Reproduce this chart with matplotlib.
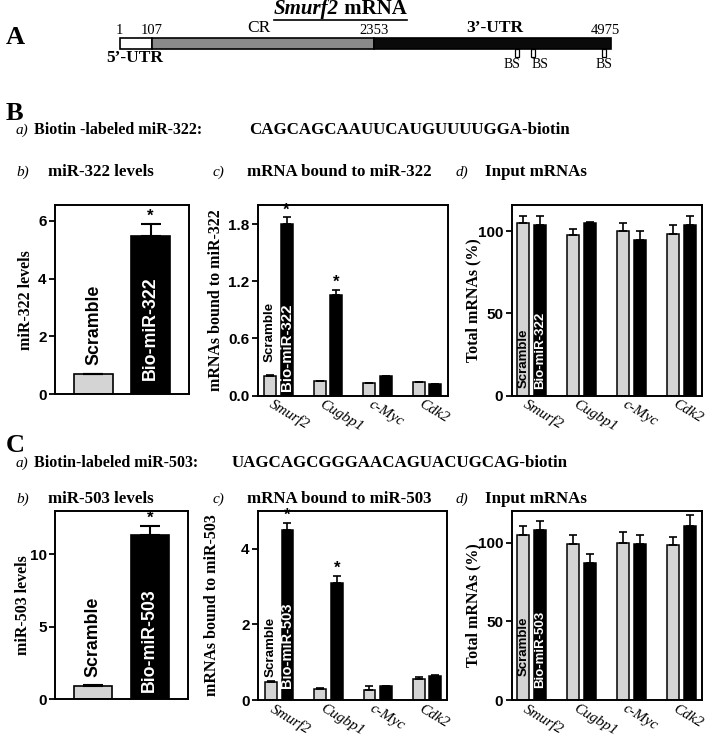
import matplotlib
matplotlib.use("Agg")
import matplotlib.pyplot as plt
from matplotlib.patches import Rectangle
import numpy as np

W, H = 712, 740
SERIF = "Liberation Serif"
SANS = "Liberation Sans"
LIGHT = "#d4d4d4"

# --- Panel A: Smurf2 mRNA map (schematic, not to scale) ---
REGION_LABELS = ["1", "107", "2353", "4975"]
REGION_EDGES = [0.0, 0.066, 0.518, 1.0]     # drawn position along the bar
REGION_COLORS = ["white", "#8a8a8a", "#0a0a0a"]
BS_SITES = [0.809, 0.841, 0.986]             # drawn position along the bar
BS_NUDGE = [-4, 5, 0]                        # label offsets in points

GENES = ["Smurf2", "Cugbp1", "c-Myc", "Cdk2"]

# --- Panel B (miR-322) ---
B_LEVELS = [0.68, 5.47]
B_LEVELS_ERR = [0.03, 0.42]
B_BOUND_SCR = [0.20, 0.15, 0.13, 0.14]
B_BOUND_SCR_ERR = [0.01, 0.005, 0.005, 0.005]
B_BOUND_BIO = [1.80, 1.05, 0.20, 0.12]
B_BOUND_BIO_ERR = [0.07, 0.06, 0.005, 0.005]
B_INPUT_SCR = [104.7, 97.6, 100.2, 98.0]
B_INPUT_SCR_ERR = [4.5, 3.5, 4.5, 5.5]
B_INPUT_BIO = [103.6, 104.9, 94.7, 103.6]
B_INPUT_BIO_ERR = [5.5, 0.6, 5.0, 5.7]

# --- Panel C (miR-503) ---
C_LEVELS = [0.94, 11.33]
C_LEVELS_ERR = [0.05, 0.65]
C_BOUND_SCR = [0.47, 0.30, 0.26, 0.55]
C_BOUND_SCR_ERR = [0.02, 0.01, 0.12, 0.05]
C_BOUND_BIO = [4.49, 3.10, 0.37, 0.64]
C_BOUND_BIO_ERR = [0.19, 0.18, 0.01, 0.01]
C_INPUT_SCR = [104.5, 99.0, 100.0, 98.1]
C_INPUT_SCR_ERR = [5.7, 5.5, 6.4, 5.3]
C_INPUT_BIO = [108.1, 86.9, 99.2, 110.2]
C_INPUT_BIO_ERR = [5.3, 5.5, 5.3, 7.0]

fig = plt.figure(figsize=(W / 100, H / 100), dpi=100)


def ftext(x, y, s, **kw):
    # place text using pixel coords measured from the top-left
    kw.setdefault("family", SERIF)
    return fig.text(x / W, 1 - y / H, s, **kw)


def add_axes(l, t, r, b):
    return fig.add_axes([l / W, 1 - b / H, (r - l) / W, (b - t) / H])


def frame(ax, ylim, yticks, ticklabels=None):
    ax.set_ylim(*ylim)
    ax.set_yticks(yticks)
    if ticklabels is not None:
        ax.set_yticklabels(ticklabels)
    for sp in ax.spines.values():
        sp.set_linewidth(1.4)
    ax.tick_params(axis="y", length=4, width=1.3, pad=2, labelsize=11)
    for lab in ax.get_yticklabels():
        lab.set_family(SANS)
        lab.set_fontweight("bold")


def bar_label(ax, s, x, y, off, size, color):
    ax.annotate(s, xy=(x, y), xytext=(0, off), textcoords="offset points",
                rotation=90, ha="center", va="bottom", fontsize=size,
                fontweight="bold", family=SANS, color=color)


def star(ax, x, y):
    ax.annotate("*", xy=(x, y), xytext=(0, 0), textcoords="offset points",
                ha="center", va="bottom", fontsize=12, fontweight="bold",
                family=SANS)


def levels_panel(ax, vals, errs, bio_name, ylim, yticks, offs):
    x = np.arange(2)
    ax.bar(x, vals, width=0.68, color=[LIGHT, "black"], edgecolor="black",
           linewidth=1.2)
    ax.errorbar(x, vals, yerr=[np.zeros(2), errs], fmt="none", ecolor="black",
                elinewidth=1.5, capsize=7.5, capthick=1.5)
    ax.set_xlim(-0.675, 1.675)
    ax.set_xticks([])
    frame(ax, ylim, yticks)
    bar_label(ax, "Scramble", 0, vals[0] + errs[0], offs[0], 12.8, "black")
    bar_label(ax, bio_name, 1, 0, offs[1], 12.8, "white")
    star(ax, 1, vals[1] + errs[1])


def group_panel(ax, scr, scr_err, bio, bio_err, bio_name, ylim, yticks,
                xlim, offs, sizes, scr_inside, stars, ticklabels=None):
    g = np.arange(len(GENES))
    d = 0.167
    ax.bar(g - d, scr, 0.24, color=LIGHT, edgecolor="black", linewidth=1.1)
    ax.bar(g + d, bio, 0.24, color="black", edgecolor="black", linewidth=1.1)
    ax.errorbar(g - d, scr, yerr=[np.zeros(4), scr_err], fmt="none",
                ecolor="black", elinewidth=1.2, capsize=3, capthick=1.2)
    ax.errorbar(g + d, bio, yerr=[np.zeros(4), bio_err], fmt="none",
                ecolor="black", elinewidth=1.2, capsize=3, capthick=1.2)
    ax.set_xlim(*xlim)
    ax.set_xticks(g - 0.08)
    ax.set_xticklabels(GENES, rotation=-31, ha="left", va="top",
                       rotation_mode="anchor", family=SERIF,
                       fontstyle="italic", fontsize=11)
    ax.tick_params(axis="x", length=0, pad=1.5)
    frame(ax, ylim, yticks, ticklabels)
    base = 0 if scr_inside else scr[0] + scr_err[0]
    bar_label(ax, "Scramble", -d, base, offs[0], sizes[0], "black")
    bar_label(ax, bio_name, d, 0, offs[1], sizes[1], "white")
    for i in stars:
        star(ax, g[i] + d, bio[i] + bio_err[i])


# ---------------- Panel A ----------------
axA = add_axes(119.6, 0, 611, 100)
axA.set_xlim(0, 1)
axA.set_ylim(100, 0)
axA.axis("off")
for lo, hi, c in zip(REGION_EDGES[:-1], REGION_EDGES[1:], REGION_COLORS):
    axA.add_patch(Rectangle((lo, 38), hi - lo, 10.5, facecolor=c,
                            edgecolor="black", linewidth=1.2, clip_on=False))
for s, nudge in zip(BS_SITES, BS_NUDGE):
    axA.add_patch(Rectangle((s - 0.004, 48.5), 0.008, 8.5, facecolor="white",
                            edgecolor="black", linewidth=0.9, clip_on=False))
    axA.annotate("BS", xy=(s, 65), xytext=(nudge, 0),
                 textcoords="offset points", ha="center", va="center",
                 family=SERIF, fontsize=10)
for i, (lab, e) in enumerate(zip(REGION_LABELS, REGION_EDGES)):
    axA.annotate(lab, xy=(e, 36.5), xytext=(-4 if i == 3 else 0, 0),
                 textcoords="offset points", ha="center", va="bottom",
                 family=SERIF, fontsize=10.5)
axA.text(0.284, 36.5, "CR", ha="center", va="bottom", family=SERIF,
         fontsize=12.5)
axA.text(0.764, 36.5, "3\u2019-UTR", ha="center", va="bottom", family=SERIF,
         fontsize=12.5, fontweight="bold")
axA.text(0.03, 58, "5\u2019-UTR", ha="center", va="center", family=SERIF,
         fontsize=12.5, fontweight="bold")

t1 = ftext(339, 9, "Smurf2", ha="right", va="center", fontsize=15,
           fontweight="bold", fontstyle="italic")
t2 = ftext(339, 9, " mRNA", ha="left", va="center", fontsize=15,
           fontweight="bold")

for lab, y in [("A", 38), ("B", 114), ("C", 445)]:
    ftext(6, y, lab, ha="left", va="center", fontsize=19, fontweight="bold")


# ---------------- row headings ----------------
def heading(x, gap, y, tag, s, size=12.2):
    ftext(x, y, tag, ha="left", va="center", fontsize=11, fontstyle="italic")
    ftext(x + gap, y, s, ha="left", va="center", fontsize=size,
          fontweight="bold")


heading(16, 18, 130, "a)", "Biotin -labeled miR-322:", 11.5)
ftext(249, 130, "CAGCAGCAAUUCAUGUUUUGGA-biotin", ha="left", va="center",
      fontsize=12.2, fontweight="bold")
heading(16, 32, 172, "b)", "miR-322 levels")
heading(213, 34, 172, "c)", "mRNA bound to miR-322")
heading(456, 29, 172, "d)", "Input mRNAs")

heading(16, 18, 463, "a)", "Biotin-labeled miR-503:", 11.5)
ftext(232, 463, "UAGCAGCGGGAACAGUACUGCAG-biotin", ha="left", va="center",
      fontsize=12.2, fontweight="bold")
heading(16, 32, 499, "b)", "miR-503 levels")
heading(213, 34, 499, "c)", "mRNA bound to miR-503")
heading(456, 29, 499, "d)", "Input mRNAs")

# ---------------- Panel B ----------------
ax = add_axes(55, 205, 189, 394)
levels_panel(ax, B_LEVELS, B_LEVELS_ERR, "Bio-miR-322", (0, 6.55),
             [0, 2, 4, 6], (6, 10))
ftext(26, 300, "miR-322 levels", rotation=90, ha="center", va="center",
      fontsize=11.5, fontweight="bold")

ax = add_axes(258, 205, 448, 395.5)
group_panel(ax, B_BOUND_SCR, B_BOUND_SCR_ERR, B_BOUND_BIO, B_BOUND_BIO_ERR,
            "Bio-miR-322", (0, 2.0), [0, 0.6, 1.2, 1.8], (-0.41, 3.42),
            (10, 3), (9.6, 10.8), False, [0, 1],
            ["0.0", "0.6", "1.2", "1.8"])
ftext(216, 300, "mRNAs bound to miR-322", rotation=90, ha="center",
      va="center", fontsize=11.5, fontweight="bold")

ax = add_axes(511.7, 205, 701.7, 395.6)
group_panel(ax, B_INPUT_SCR, B_INPUT_SCR_ERR, B_INPUT_BIO, B_INPUT_BIO_ERR,
            "Bio-miR-322", (0, 115.8), [0, 50, 100], (-0.4, 3.4),
            (5.5, 5), (9.5, 9.5), True, [])
ftext(473, 300, "Total mRNAs (%)", rotation=90, ha="center", va="center",
      fontsize=11.5, fontweight="bold")

# ---------------- Panel C ----------------
ax = add_axes(55, 511, 188, 699.3)
levels_panel(ax, C_LEVELS, C_LEVELS_ERR, "Bio-miR-503", (0, 13.0),
             [0, 5, 10], (6, 5.5))
ftext(23, 605, "miR-503 levels", rotation=90, ha="center", va="center",
      fontsize=11.5, fontweight="bold")

ax = add_axes(258, 511, 446.7, 700)
group_panel(ax, C_BOUND_SCR, C_BOUND_SCR_ERR, C_BOUND_BIO, C_BOUND_BIO_ERR,
            "Bio-miR-503", (0, 5.0), [0, 2, 4], (-0.43, 3.40),
            (3.5, 9), (9.6, 10.5), False, [0, 1])
ftext(212, 605, "mRNAs bound to miR-503", rotation=90, ha="center",
      va="center", fontsize=11.5, fontweight="bold")

ax = add_axes(511.7, 511, 701.7, 700)
group_panel(ax, C_INPUT_SCR, C_INPUT_SCR_ERR, C_INPUT_BIO, C_INPUT_BIO_ERR,
            "Bio-miR-503", (0, 120), [0, 50, 100], (-0.4, 3.4),
            (17, 8.5), (9.5, 9.5), True, [])
ftext(473, 605, "Total mRNAs (%)", rotation=90, ha="center", va="center",
      fontsize=11.5, fontweight="bold")

# underline under the title
fig.canvas.draw()
r = fig.canvas.get_renderer()
e1 = t1.get_window_extent(r)
e2 = t2.get_window_extent(r)
fig.add_artist(plt.Line2D([e1.x0 / W, e2.x1 / W], [e1.y0 / H - 0.002] * 2,
                          color="black", linewidth=1.2))

fig.savefig("out.png", dpi=100)
